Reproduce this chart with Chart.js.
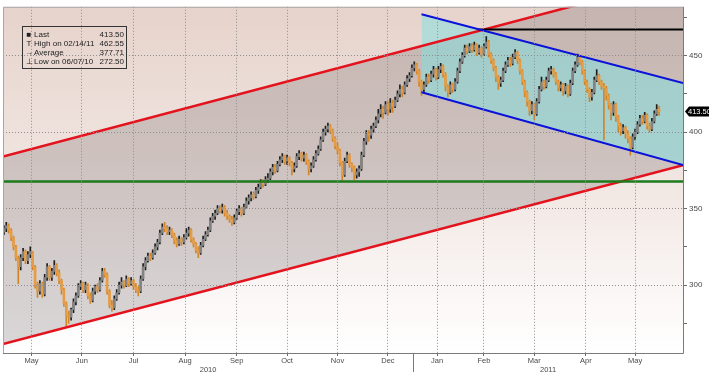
<!DOCTYPE html>
<html>
<head>
<meta charset="utf-8">
<script src="https://cdn.jsdelivr.net/npm/chart.js@4.4.1/dist/chart.umd.min.js"></script>
<style>
html,body{margin:0;padding:0;background:#fff;}
#wrap{position:relative;width:709px;height:372px;}
canvas{display:block;}
#legend{position:absolute;left:22px;top:26px;width:99px;border:1px solid #333;padding:3px 2px 2px 2px;font:8px 'Liberation Sans',sans-serif;color:#222;line-height:9px;}
#legend .row{display:flex;justify-content:space-between;white-space:nowrap;}
#legend .ic{display:inline-block;width:8px;text-align:center;margin-right:1px;}
</style>
</head>
<body>
<div id="wrap">
<canvas id="c" width="709" height="372"></canvas>
<div id="legend"></div>
</div>
<script>
// ---- data (trading-day series, first candle is two sessions before 1 May 2010) ----
const firstDay = -2;
const opens = [
335,337,339,336,331,325,317,312,318,322,316,320,
321,312,300,296,301,294,305,312,305,309,
313,308,303,297,288,280,279,284,289,293,
299,301,297,300,293,290,296,299,297,303,
309,307,296,287,285,291,295,300,302,300,
304,301,303,299,297,296,304,312,316,319,
318,321,325,328,334,338,337,335,336,333,
329,327,330,328,331,334,336,330,327,323,
321,326,330,333,336,342,345,347,350,349,
351,347,345,343,341,344,348,350,347,351,
355,357,359,358,362,364,367,366,369,370,
374,377,375,379,382,384,381,383,380,376,
378,384,386,383,385,381,376,378,382,386,
389,395,400,402,404,401,396,391,388,380,
372,381,385,379,377,372,374,376,385,394,
399,398,402,404,408,412,415,413,418,415,
419,417,421,425,428,426,431,435,437,442,
444,440,433,428,431,436,434,438,441,436,
441,443,438,430,426,431,428,433,440,446,
450,455,453,456,454,457,452,455,451,456,
459,451,447,442,436,432,434,440,444,447,
445,449,452,447,440,433,426,420,414,418,
412,420,428,433,430,434,440,441,438,433,
429,431,427,430,425,432,440,444,449,446,
440,433,428,423,426,434,437,433,430,429,
424,418,413,418,410,404,401,403,399,396,
390,397,400,405,409,407,411,404,402,407,
412,415];
const highs = [
339,341,340,337,332,326,319,320,324,323,322,325,
322,313,302,303,302,307,314,313,311,316,
314,310,304,298,289,283,285,291,295,301,
303,302,302,301,295,298,300,301,305,311,
311,308,297,290,293,297,302,305,303,306,
305,305,304,301,299,306,314,318,321,321,
323,327,330,336,340,341,339,338,337,334,
331,332,331,333,337,338,337,331,328,325,
328,332,335,338,344,347,349,352,352,353,
352,349,346,345,346,350,352,351,353,357,
359,361,361,364,366,369,369,371,373,376,
379,379,381,384,386,385,385,384,381,380,
386,388,387,387,386,382,380,384,388,391,
397,402,404,406,405,402,397,393,389,381,
383,387,386,380,378,376,378,387,396,401,
401,404,406,410,415,418,417,420,420,422,
421,423,427,431,430,433,437,439,444,446,
445,441,434,433,438,438,440,443,442,443,
445,444,439,431,433,432,435,442,448,452,
457,457,458,458,459,458,457,456,458,462.55,
460,452,448,443,437,436,442,446,449,449,
451,454,453,448,441,434,427,421,420,419,
422,430,436,434,436,442,443,442,439,434,
433,432,432,431,434,442,446,451,450,447,
441,434,429,428,436,441,438,434,432,430,
425,419,420,419,411,406,405,404,401,397,
399,402,407,411,411,413,412,406,409,414,
418,417];
const lows = [
333,335,334,329,323,316,301,310,316,314,314,318,
310,298,292,294,292,293,303,303,303,307,
306,301,294,286,272.5,275,277,282,287,292,
297,295,295,291,288,289,294,295,296,302,
305,294,285,283,284,290,294,298,298,299,
299,300,297,295,293,295,303,310,315,316,
317,320,323,327,333,335,333,333,331,327,
325,326,326,327,330,332,328,325,321,318,
320,325,329,332,335,341,343,346,347,347,
345,343,341,339,340,343,346,345,346,350,
353,355,356,357,360,363,364,365,367,369,
372,373,374,378,380,379,379,378,372,374,
377,382,381,381,379,372,374,377,381,385,
388,394,398,400,399,394,389,386,378,368.5,
371,380,377,374,369,370,371,375,384,392,
394,396,400,403,406,410,409,412,411,413,
413,416,420,423,423,425,430,433,436,440,
438,430,424,426,430,432,433,436,434,435,
439,436,427,423,425,426,427,432,439,445,
449,451,452,452,453,450,451,449,450,455,
449,445,440,433,428,430,433,439,443,443,
444,448,445,438,431,423,417,411,412,408,
411,419,427,428,429,433,438,436,431,427,
427,424,425,423,424,431,439,443,444,438,
431,426,420,421,425,433,431,428,395,421,
415,408,411,407,400,398,399,396,393,385,
389,395,399,404,405,406,402,400,401,406,
411,411];
const closes = [
337,339,336,331,325,318,312,318,322,316,320,322,
312,300,296,301,294,305,312,305,309,313,
308,303,297,288,280,279,284,289,293,299,
301,297,300,293,290,296,299,297,303,309,
307,296,287,285,291,295,300,302,300,304,
301,303,299,297,296,304,312,316,319,318,
321,325,328,334,338,337,335,336,333,329,
327,330,328,331,334,336,330,327,323,321,
326,330,333,336,342,345,347,350,349,351,
347,345,343,341,344,348,350,347,351,355,
357,359,358,362,364,367,366,369,370,374,
377,375,379,382,384,381,383,380,376,378,
384,386,383,385,381,376,378,382,386,389,
395,400,402,404,401,396,391,388,380,372,
381,385,379,377,372,374,376,385,394,399,
398,402,404,408,412,415,413,418,415,419,
417,421,425,428,426,431,435,437,442,444,
440,433,428,431,436,434,438,441,436,441,
443,438,430,426,431,428,433,440,446,450,
455,453,456,454,457,452,455,451,456,459,
451,447,442,436,432,434,440,444,447,445,
449,452,447,440,433,426,420,414,418,412,
420,428,433,430,434,440,441,438,433,429,
431,427,430,425,432,440,444,449,446,440,
433,428,423,426,434,437,433,430,429,424,
418,413,418,410,404,401,403,399,396,390,
397,400,405,409,407,411,404,402,407,412,
415,413.5];

// axis categories
const monthLabels = ['May','Jun','Jul','Aug','Sep','Oct','Nov','Dec','Jan','Feb','Mar','Apr','May'];
const monthStarts = [0,20,42,63,85,106,127,148,169,189,208,231,251,272]; // trading-day index of each month start
const yearLabels = ['2010','2011'];
const yearFirstMonth = [0, 8]; // index into monthLabels where each year starts
const xMin = -1.875, xMax = 281.46;
const yMin = 255.6, yMax = 482.0;
const yTicks = [275,300,325,350,375,400,425,450,475];
const yLabelStep = 50;

// study lines (values at the start/end of each line)
const channelX = [xMin, xMax];
const channelUpper = [384.0, 501.5];
const channelLower = [261.4, 378.4];
const trendX = [172.5, xMax];
const trendUpper = [477.1, 432.1];
const trendLower = [426.1, 378.5];
const resistanceX = [196.3, xMax];
const resistanceLevel = 467.2;
const supportLevel = 367.7;

// summary statistics
const statLast = 413.50;
const statHigh = 462.55, statHighDate = '02/14/11';
const statAvg = 377.71;
const statLow = 272.50, statLowDate = '06/07/10';

// ---- legend box ----
document.getElementById('legend').innerHTML =
  '<div class="row"><span><span class="ic">&#9632;</span>Last</span><span>'+statLast.toFixed(2)+'</span></div>'+
  '<div class="row"><span><span class="ic">T</span>High on '+statHighDate+'</span><span>'+statHigh.toFixed(2)+'</span></div>'+
  '<div class="row"><span><span class="ic">&#8594;</span>Average</span><span>'+statAvg.toFixed(2)+'</span></div>'+
  '<div class="row"><span><span class="ic">&#8869;</span>Low on '+statLowDate+'</span><span>'+statLow.toFixed(2)+'</span></div>';

// ---- build chart data ----
const candleX = closes.map((_, k) => firstDay + k + 0.5);
const isUp = k => closes[k] >= opens[k];
const wickData = candleX.map((x, k) => ({x: x, y: [lows[k], highs[k]]}));
const bodyData = candleX.map((x, k) => ({x: x, y: [opens[k], closes[k]]}));

const boundarySet = new Set(monthStarts);
const xTickDefs = [];
monthStarts.forEach(v => xTickDefs.push({value: v, label: ''}));
monthLabels.forEach((m, k) => xTickDefs.push({value: (monthStarts[k] + monthStarts[k+1]) / 2, label: m}));
yearLabels.forEach((y, k) => {
  const a = k === 0 ? xMin : monthStarts[yearFirstMonth[k]];
  const b = k + 1 < yearLabels.length ? monthStarts[yearFirstMonth[k+1]] : xMax;
  xTickDefs.push({value: (a + b) / 2, label: ['', y]});
});
const xLabelMap = new Map(xTickDefs.map(t => [t.value, t.label]));

const UP_BODY = '#838383', UP_WICK = '#1c1c1c';
const DN_BODY = '#E59C45', DN_WICK = '#D08428';

const line = (xs, ys, color, width, order, extra) => Object.assign({
  type: 'line',
  data: [{x: xs[0], y: ys[0]}, {x: xs[1], y: ys[1]}],
  borderColor: color, borderWidth: width, pointRadius: 0, fill: false,
  order: order, clip: 0, tension: 0
}, extra || {});

const bgPlugin = {
  id: 'bg',
  beforeDraw(chart) {
    const {ctx, chartArea: a} = chart;
    ctx.save();
    ctx.fillStyle = '#ffffff';
    ctx.fillRect(0, 0, chart.width, chart.height);
    const g = ctx.createLinearGradient(0, a.top, 0, a.bottom);
    g.addColorStop(0, '#E6D3CB');
    g.addColorStop(0.5, '#F1E6E2');
    g.addColorStop(1, '#FFFFFF');
    ctx.fillStyle = g;
    ctx.fillRect(a.left, a.top, a.right - a.left, a.bottom - a.top);
    ctx.restore();
  },
  afterDraw(chart) {
    const {ctx, chartArea: a} = chart;
    ctx.save();
    ctx.lineWidth = 1;
    ctx.strokeStyle = '#a8a8a8';
    ctx.beginPath();
    ctx.moveTo(a.left + 0.5, a.bottom); ctx.lineTo(a.left + 0.5, a.top + 0.5); ctx.lineTo(a.right, a.top + 0.5);
    ctx.stroke();
    ctx.strokeStyle = '#7a7a7a';
    ctx.beginPath();
    ctx.moveTo(a.right + 0.5, a.top); ctx.lineTo(a.right + 0.5, a.bottom + 0.5); ctx.lineTo(a.left, a.bottom + 0.5);
    ctx.stroke();
    // year divider
    const xs = chart.scales.x.getPixelForValue(monthStarts[yearFirstMonth[1]]);
    ctx.strokeStyle = '#7a7a7a';
    ctx.beginPath();
    ctx.moveTo(Math.round(xs) + 0.5, a.bottom); ctx.lineTo(Math.round(xs) + 0.5, chart.height);
    ctx.stroke();
    // last price tag
    const py = chart.scales.y.getPixelForValue(closes[closes.length - 1]);
    const x0 = a.right + 2;
    ctx.fillStyle = '#000';
    ctx.beginPath();
    ctx.moveTo(x0, py);
    ctx.lineTo(x0 + 4, py - 5);
    ctx.lineTo(chart.width, py - 5);
    ctx.lineTo(chart.width, py + 5);
    ctx.lineTo(x0 + 4, py + 5);
    ctx.closePath();
    ctx.fill();
    ctx.fillStyle = '#fff';
    ctx.font = '7.5px "Liberation Sans", sans-serif';
    ctx.textBaseline = 'middle';
    ctx.textAlign = 'left';
    ctx.fillText(closes[closes.length - 1].toFixed(2), x0 + 3, py + 0.5);
    ctx.restore();
  }
};

new Chart(document.getElementById('c'), {
  type: 'bar',
  data: {
    datasets: [
      line(channelX, channelUpper, '#E3121C', 2.5, 3, {fill: '+1', backgroundColor: 'rgba(72,60,64,0.2)'}),
      line(channelX, channelLower, '#E3121C', 2.5, 3),
      line(trendX, trendUpper, '#0A12D8', 2, 1, {fill: '+1', backgroundColor: 'rgba(125,226,226,0.5)'}),
      line(trendX, trendLower, '#0A12D8', 2, 1),
      line(channelX, [supportLevel, supportLevel], '#1D7A1D', 2.5, 2),
      line(resistanceX, [resistanceLevel, resistanceLevel], '#000000', 2, 2),
      {
        type: 'bar', data: wickData, grouped: false, barThickness: 1, borderWidth: 0,
        backgroundColor: ctx => isUp(ctx.dataIndex) ? UP_WICK : DN_WICK, order: 6
      },
      {
        type: 'bar', data: bodyData, grouped: false, barThickness: 2, borderWidth: 0, minBarLength: 1,
        backgroundColor: ctx => isUp(ctx.dataIndex) ? UP_BODY : DN_BODY, order: 5
      }
    ]
  },
  options: {
    responsive: false,
    animation: false,
    devicePixelRatio: 1,
    events: [],
    layout: {padding: {left: 3, top: 2, right: 0, bottom: 0}},
    plugins: {
      legend: {display: false},
      tooltip: {enabled: false},
      filler: {drawTime: 'beforeDatasetsDraw'}
    },
    scales: {
      x: {
        type: 'linear', position: 'bottom', min: xMin, max: xMax, offset: false,
        afterBuildTicks: s => { s.ticks = xTickDefs.map(t => ({value: t.value})); },
        afterFit: s => { s.height = 19; },
        ticks: {
          autoSkip: false, maxRotation: 0, minRotation: 0, padding: 0, color: '#4a4a4a',
          font: {family: 'Liberation Sans', size: 7.5, lineHeight: 1.25},
          callback: v => xLabelMap.has(v) ? xLabelMap.get(v) : ''
        },
        grid: {
          z: 1, tickLength: 3, lineWidth: 1,
          color: c => (c.tick && boundarySet.has(c.tick.value)) ? '#8e8e8e' : 'rgba(0,0,0,0)',
          tickColor: c => (c.tick && boundarySet.has(c.tick.value)) ? '#6a6a6a' : 'rgba(0,0,0,0)'
        },
        border: {display: false, dash: [1, 2]}
      },
      y: {
        type: 'linear', position: 'right', min: yMin, max: yMax,
        afterBuildTicks: s => { s.ticks = yTicks.map(v => ({value: v})); },
        afterFit: s => { s.width = 26; },
        ticks: {
          padding: 2, color: '#4a4a4a',
          font: {family: 'Liberation Sans', size: 8},
          callback: v => (v % yLabelStep === 0) ? String(v) : ''
        },
        grid: {
          z: 1, tickLength: 4, lineWidth: 1,
          color: c => (c.tick && c.tick.value % yLabelStep === 0) ? '#8e8e8e' : 'rgba(0,0,0,0)',
          tickColor: '#6a6a6a'
        },
        border: {display: false, dash: [1, 2]}
      }
    }
  },
  plugins: [bgPlugin]
});
</script>
</body>
</html>
